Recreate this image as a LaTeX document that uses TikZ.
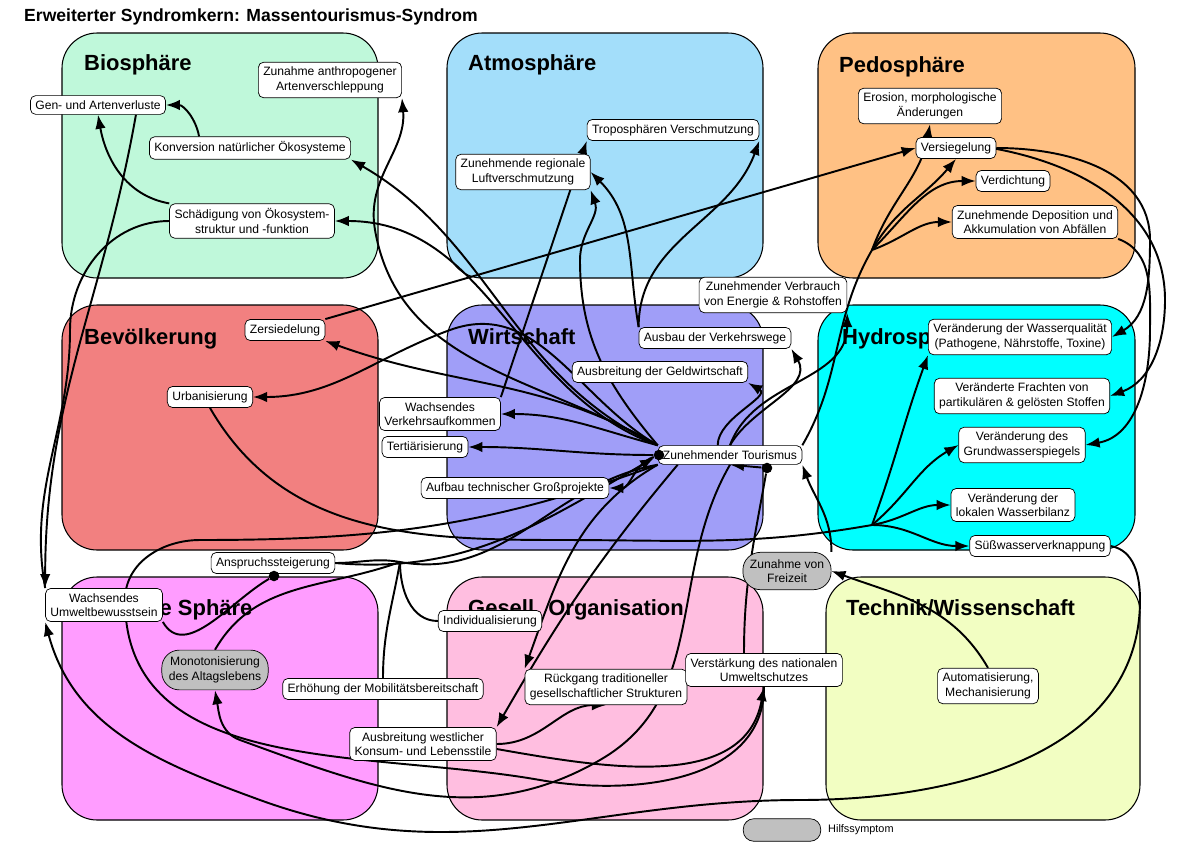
\documentclass[tikz,border=0pt]{standalone}
\usepackage{fontspec}
\setmainfont{Liberation Sans}
\usetikzlibrary{arrows.meta,positioning}
\definecolor{bio}{HTML}{BFF8DA}
\definecolor{atmo}{HTML}{A3DEFA}
\definecolor{pedo}{HTML}{FFC184}
\definecolor{bev}{HTML}{F28080}
\definecolor{wirt}{HTML}{A09EF8}
\definecolor{hydro}{HTML}{00FFFF}
\definecolor{sozi}{HTML}{FF9CFF}
\definecolor{gese}{HTML}{FFBEE0}
\definecolor{tech}{HTML}{F2FEC2}
\definecolor{hilf}{HTML}{C0C0C0}
\pgfdeclarelayer{front}
\pgfsetlayers{main,front}
\tikzset{
  sph/.style={draw,line width=0.6pt,rounded corners=20pt},
  stitle/.style={anchor=north west,font=\fontsize{12.5}{14}\selectfont\bfseries},
  sym/.style={draw,fill=white,rounded corners=3pt,align=center,inner sep=2.8pt,
    font=\fontsize{6.9}{8.2}\selectfont},
  aux/.style={sym,fill=hilf,rounded corners=10pt,inner sep=4pt},
  con/.style={line width=1.1pt,-{Latex[length=8pt,width=6pt]}},
  lin/.style={line width=1.1pt},
  dot/.style={circle,fill=black,inner sep=0pt,minimum size=6pt}
}
\begin{document}
\begin{tikzpicture}[x=0.02cm,y=-0.02cm]
\useasboundingbox (0,0) rectangle (1200,862);
\node[anchor=west,font=\fontsize{10}{12}\selectfont\bfseries] (title) at (18,17) {Erweiterter Syndromkern: Massentourismus-Syndrom};
% spheres
\draw[sph,fill=bio] (62,33) rectangle (378,278);
\draw[sph,fill=atmo] (447,33) rectangle (763,278);
\draw[sph,fill=pedo] (818,33) rectangle (1135,278);
\draw[sph,fill=bev] (62,305) rectangle (378,550);
\draw[sph,fill=wirt] (447,305) rectangle (763,550);
\draw[sph,fill=hydro] (818,305) rectangle (1135,550);
\draw[sph,fill=sozi] (62,577) rectangle (378,820);
\draw[sph,fill=gese] (447,577) rectangle (763,820);
\draw[sph,fill=tech] (826,577) rectangle (1140,820);
\node[stitle] at (78,48) {Biosphäre};
\node[stitle] at (462,48) {Atmosphäre};
\node[stitle] at (833,50) {Pedosphäre};
\node[stitle] at (78,322) {Bevölkerung};
\node[stitle] at (462,322) {Wirtschaft};
\node[stitle] at (836,322) {Hydrosphäre};
\node[stitle] at (90,593) {Soziale Sphäre};
\node[stitle] at (462,593) {Gesell. Organisation};
\node[stitle] at (840,593) {Technik/Wissenschaft};
\coordinate (pf) at (872,250);
\coordinate (hf) at (872,525);
\coordinate (jn) at (400,562);
% symptoms
\begin{pgfonlayer}{front}
\node[sym] (gen) at (98,105) {Gen- und Artenverluste};
\node[sym] (versch) at (330,80) {Zunahme anthropogener\\Artenverschleppung};
\node[sym] (konv) at (250,148) {Konversion natürlicher Ökosysteme};
\node[sym] (schad) at (252,221) {Schädigung von Ökosystem-\\struktur und -funktion};
\node[sym] (tropo) at (673,130) {Troposphären Verschmutzung};
\node[sym] (luft) at (523,172) {Zunehmende regionale\\Luftverschmutzung};
\node[sym] (eros) at (930,106) {Erosion, morphologische\\Änderungen};
\node[sym] (versie) at (956,148) {Versiegelung};
\node[sym] (verdi) at (1013,181) {Verdichtung};
\node[sym] (depo) at (1035,222) {Zunehmende Deposition und\\Akkumulation von Abfällen};
\node[sym] (verbr) at (773,295) {Zunehmender Verbrauch\\von Energie \& Rohstoffen};
\node[sym] (zers) at (285,330) {Zersiedelung};
\node[sym] (vweg) at (715,338) {Ausbau der Verkehrswege};
\node[sym] (geld) at (660,372) {Ausbreitung der Geldwirtschaft};
\node[sym] (urb) at (210,397) {Urbanisierung};
\node[sym] (vauf) at (440,414) {Wachsendes\\Verkehrsaufkommen};
\node[sym] (tert) at (425,447) {Tertiärisierung};
\node[sym] (tour) at (730,455) {Zunehmender Tourismus};
\node[sym] (gross) at (515,488) {Aufbau technischer Großprojekte};
\node[sym] (wq) at (1020,337) {Veränderung der Wasserqualität\\(Pathogene, Nährstoffe, Toxine)};
\node[sym] (fracht) at (1022,396) {Veränderte Frachten von\\partikulären \& gelösten Stoffen};
\node[sym] (grund) at (1022,445) {Veränderung des\\Grundwasserspiegels};
\node[sym] (bilanz) at (1013,505) {Veränderung der\\lokalen Wasserbilanz};
\node[sym] (suess) at (1040,546) {Süßwasserverknappung};
\node[sym] (anspr) at (273,563) {Anspruchssteigerung};
\node[aux] (frei) at (787,571) {Zunahme von\\Freizeit};
\node[sym] (umw) at (104,605) {Wachsendes\\Umweltbewusstsein};
\node[sym] (indiv) at (490,621) {Individualisierung};
\node[aux] (mono) at (215,670) {Monotonisierung\\des Altagslebens};
\node[sym] (mobil) at (383,689) {Erhöhung der Mobilitätsbereitschaft};
\node[sym] (rueck) at (606,687) {Rückgang traditioneller\\gesellschaftlicher Strukturen};
\node[sym] (natio) at (764,670) {Verstärkung des nationalen\\Umweltschutzes};
\node[sym] (auto) at (988,686) {Automatisierung,\\Mechanisierung};
\node[sym] (westl) at (423,744) {Ausbreitung westlicher\\Konsum- und Lebensstile};
\node[draw,fill=hilf,rounded corners=6pt,minimum width=1.55cm,minimum height=0.45cm] (leg) at (782,830) {};
\node[anchor=west,font=\fontsize{6.2}{7}\selectfont] (legt) at (822,830) {Hilfssymptom};
\node[dot] (d1) at (659,455) {};
\node[dot] (d2) at (767,468) {};
\node[dot] (d3) at (274,576) {};
\end{pgfonlayer}
% connectors
\draw[con] (konv.north west) ++(50,0) to[out=100,in=0] (gen.east);
\draw[con] (schad.north west) to[out=170,in=-80] (gen.south);
\draw[con] (gen.south east) ++(-30,0) to[out=-100,in=90] (umw.north west);
\draw[lin] (schad.west) to[out=180,in=90] (70,330) to[out=-90,in=100] (umw.north west);
\draw[con] (tour.north west) to[out=150,in=-80] (375,230) to[out=100,in=-85] (versch.south east);
\draw[con] (tour.north west) to[out=155,in=-30] (konv.south east);
\draw[con] (tour.north west) to[out=160,in=0] (schad.east);
\draw[con] (tour.north west) to[out=130,in=-90] (580,260) to[out=90,in=-70] (luft.south east);
\draw[con] (vauf.north east) to (tropo.south west);
\draw[con] (vweg.north west) to[out=90,in=-110] (tropo.south east);
\draw[con] (vweg.north west) to[out=100,in=-45] (luft.east);
\draw[con] (zers.north east) to (versie.west);
\draw[con] (tour.north east) to[out=60,in=-120] (pf) to[out=70,in=-100] (eros.south);
\draw[con] (pf) to[out=60,in=-130] (versie.south);
\draw[con] (pf) to[out=45,in=180] (verdi.west);
\draw[con] (pf) to[out=20,in=180] (depo.west);
\draw[con] (versie.east) to[out=0,in=90] (1150,240) to[out=-90,in=30] (wq.east);
\draw[con] (versie.east) ++(-5,0) to[out=-10,in=90] (1165,300) to[out=-90,in=20] (fracht.east);
\draw[con] (depo.south east) to[out=-20,in=90] (1150,330) to[out=-90,in=10] (grund.east);
\draw[con] (tour.north) to[out=70,in=-90] (verbr.south east);
\draw[con] (tour.north) to[out=60,in=-60] (vweg.south east);
\draw[con] (tour.north west) ++(60,0) to[out=90,in=-30] (geld.south east);
\draw[con] (tour.north west) to[out=165,in=0] (vauf.east);
\draw[con] (d1) to[out=180,in=0] (tert.east);
\draw[con] (d1) to[out=200,in=0] (gross.east);
\draw[con] (tour.north west) to[out=150,in=20] (450,330) to[out=-160,in=0] (urb.east);
\draw[con] (tour.north west) to[out=150,in=-20] (zers.south east);
\draw[lin] (urb.south) to[out=-60,in=180] (560,540) to[out=0,in=190] (hf);
\draw[con] (hf) to[out=70,in=-110] (wq.south west);
\draw[con] (hf) to[out=40,in=-150] (grund.west);
\draw[con] (hf) to[out=10,in=180] (bilanz.west);
\draw[con] (hf) to[out=0,in=180] (suess.west);
\draw[con] (suess.east) to[out=-10,in=90] (1140,600) to[out=-90,in=0] (800,800) to[out=180,in=-20] (260,800) to[out=160,in=-75] (umw.south west);
\draw[con] (natio.north) ++(-20,0) to[out=90,in=-100] (d2) -- (tour.south);
\draw[con] (frei.north east) to[out=90,in=-70] (tour.south east);
\draw[con] (auto.north) to[out=120,in=-20] (frei.east);
\draw[con] (anspr.east) to[out=-5,in=-150] (d1);
\draw[lin] (anspr.east) to[out=0,in=170] (jn) to[out=-10,in=-170] (tour.south west);
\draw[lin] (jn) to[out=-160,in=60] (mono.north);
\draw[lin] (jn) to[out=-90,in=180] (indiv.west);
\draw[lin] (jn) to[out=-100,in=90] (mobil.north);
\draw[lin] (umw.south east) to[out=-60,in=-150] (d3);
\draw[con] (tour.south west) to[out=-150,in=70] (rueck.north west);
\draw[con] (tour.south west) ++(20,0) to[out=-130,in=60] (westl.north east);
\draw[con] (westl.east) to[out=0,in=180] (rueck.south);
\draw[con] (westl.east) ++(0,5) to[out=-10,in=-100] (natio.south);
\draw[con] (tour.south) to[out=-120,in=30] (600,760) to[out=-150,in=-20] (240,740) to[out=160,in=-80] (mono.south);
\draw[lin] (tour.south west) to[out=-160,in=0] (200,540) to[out=180,in=90] (125,600) to[out=-90,in=170] (540,780) to[out=-10,in=-90] (natio.south);
\end{tikzpicture}
\end{document}
